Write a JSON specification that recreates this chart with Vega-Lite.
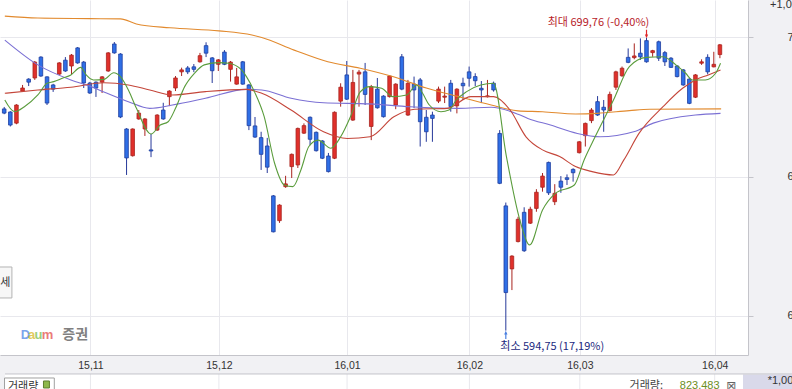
{
"$schema":"https://vega.github.io/schema/vega-lite/v6.json",
"width":748,"height":355,
"autosize":{"type":"none"},
"padding":{"left":0,"top":0,"right":44,"bottom":34},
"background":"#f1f1f4",
"view":{"fill":"white","stroke":null},
"config":{"text":{"font":"Noto Sans CJK KR"}},
"datasets":{
"candles":[
{"i":-14,"o":674.3,"h":675.0,"l":672.4,"c":672.8},
{"i":-13,"o":673.2,"h":673.5,"l":668.0,"c":668.5},
{"i":-12,"o":669.2,"h":676.0,"l":668.8,"c":675.7},
{"i":-11,"o":680.7,"h":682.9,"l":680.4,"c":681.8},
{"i":-10,"o":685.0,"h":685.3,"l":682.5,"c":683.9},
{"i":-9,"o":685.4,"h":691.5,"l":684.7,"c":691.1},
{"i":-8,"o":692.9,"h":693.2,"l":685.8,"c":686.1},
{"i":-7,"o":685.8,"h":686.0,"l":675.7,"c":676.4},
{"i":-6,"o":682.9,"h":683.3,"l":680.4,"c":681.4},
{"i":-5,"o":686.8,"h":691.1,"l":686.5,"c":690.8},
{"i":-4,"o":691.8,"h":692.9,"l":687.6,"c":687.9},
{"i":-3,"o":689.7,"h":694.0,"l":686.8,"c":693.6},
{"i":-2,"o":696.2,"h":696.5,"l":690.5,"c":690.8},
{"i":-1,"o":691.1,"h":691.5,"l":681.8,"c":683.6},
{"i":0,"o":683.6,"h":684.0,"l":679.7,"c":680.0},
{"i":1,"o":683.9,"h":684.2,"l":678.6,"c":681.8},
{"i":2,"o":683.9,"h":686.1,"l":680.0,"c":685.8},
{"i":3,"o":687.9,"h":694.7,"l":687.6,"c":694.4},
{"i":4,"o":697.6,"h":698.3,"l":694.1,"c":694.4},
{"i":5,"o":694.0,"h":694.3,"l":671.0,"c":671.4},
{"i":6,"o":667.1,"h":667.4,"l":650.6,"c":656.7},
{"i":7,"o":657.5,"h":667.3,"l":657.2,"c":667.1},
{"i":8,"o":670.7,"h":673.9,"l":670.4,"c":672.8},
{"i":9,"o":667.1,"h":671.0,"l":664.6,"c":670.7},
{"i":10,"o":659.6,"h":665.3,"l":657.0,"c":659.2},
{"i":11,"o":666.7,"h":672.4,"l":666.4,"c":672.1},
{"i":12,"o":673.9,"h":676.5,"l":670.4,"c":670.7},
{"i":13,"o":678.7,"h":681.0,"l":675.3,"c":680.7},
{"i":14,"o":681.8,"h":686.1,"l":680.7,"c":685.4},
{"i":15,"o":687.6,"h":689.1,"l":686.1,"c":688.3},
{"i":16,"o":689.0,"h":689.7,"l":686.8,"c":687.6},
{"i":17,"o":689.4,"h":690.4,"l":687.5,"c":688.5},
{"i":18,"o":691.2,"h":694.4,"l":690.9,"c":693.4},
{"i":19,"o":697.0,"h":698.2,"l":692.9,"c":694.3},
{"i":20,"o":692.6,"h":692.9,"l":683.6,"c":688.0},
{"i":21,"o":690.3,"h":692.2,"l":687.9,"c":691.9},
{"i":22,"o":694.7,"h":695.4,"l":690.0,"c":690.3},
{"i":23,"o":688.5,"h":691.5,"l":684.1,"c":691.1},
{"i":24,"o":683.2,"h":689.0,"l":683.0,"c":685.8},
{"i":25,"o":691.2,"h":691.5,"l":683.0,"c":683.2},
{"i":26,"o":682.9,"h":683.2,"l":666.7,"c":668.3},
{"i":27,"o":668.2,"h":671.4,"l":663.9,"c":664.2},
{"i":28,"o":664.0,"h":666.1,"l":652.4,"c":658.0},
{"i":29,"o":661.0,"h":663.9,"l":651.3,"c":653.4},
{"i":30,"o":643.1,"h":643.4,"l":630.0,"c":630.2},
{"i":31,"o":634.2,"h":640.1,"l":633.4,"c":639.8},
{"i":32,"o":646.4,"h":650.3,"l":646.0,"c":647.4},
{"i":33,"o":653.6,"h":658.3,"l":649.5,"c":658.0},
{"i":34,"o":654.2,"h":667.6,"l":653.1,"c":667.3},
{"i":35,"o":665.6,"h":669.1,"l":665.3,"c":668.3},
{"i":36,"o":671.3,"h":671.6,"l":661.3,"c":663.4},
{"i":37,"o":665.9,"h":666.2,"l":659.0,"c":659.3},
{"i":38,"o":662.8,"h":663.1,"l":656.3,"c":656.6},
{"i":39,"o":657.4,"h":658.5,"l":651.5,"c":651.8},
{"i":40,"o":656.6,"h":673.4,"l":656.3,"c":673.1},
{"i":41,"o":677.1,"h":683.5,"l":675.1,"c":682.1},
{"i":42,"o":686.5,"h":691.5,"l":677.5,"c":677.8},
{"i":43,"o":670.3,"h":688.3,"l":670.0,"c":683.8},
{"i":44,"o":686.8,"h":688.3,"l":675.1,"c":687.5},
{"i":45,"o":687.6,"h":690.8,"l":675.7,"c":679.5},
{"i":46,"o":668.0,"h":682.9,"l":663.1,"c":682.3},
{"i":47,"o":681.4,"h":685.4,"l":674.4,"c":674.7},
{"i":48,"o":678.9,"h":679.2,"l":671.2,"c":671.5},
{"i":49,"o":678.7,"h":686.4,"l":678.4,"c":686.1},
{"i":50,"o":675.7,"h":683.5,"l":674.2,"c":683.2},
{"i":51,"o":693.0,"h":694.0,"l":681.0,"c":681.4},
{"i":52,"o":672.1,"h":684.7,"l":671.8,"c":683.5},
{"i":53,"o":683.2,"h":685.9,"l":674.6,"c":681.1},
{"i":54,"o":684.7,"h":685.4,"l":660.8,"c":669.7},
{"i":55,"o":671.3,"h":673.9,"l":662.5,"c":666.1},
{"i":56,"o":672.1,"h":673.3,"l":662.5,"c":670.9},
{"i":57,"o":677.1,"h":682.3,"l":676.4,"c":681.4},
{"i":58,"o":678.5,"h":682.3,"l":676.4,"c":678.9},
{"i":59,"o":683.5,"h":684.7,"l":673.3,"c":675.1},
{"i":60,"o":675.4,"h":681.7,"l":672.7,"c":681.4},
{"i":61,"o":683.5,"h":685.5,"l":677.5,"c":682.6},
{"i":62,"o":687.6,"h":689.5,"l":682.3,"c":685.3},
{"i":63,"o":685.9,"h":687.1,"l":682.5,"c":684.4},
{"i":64,"o":681.7,"h":684.3,"l":676.4,"c":681.1},
{"i":65,"o":678.7,"h":684.7,"l":678.4,"c":679.0},
{"i":66,"o":683.5,"h":684.1,"l":680.5,"c":681.1},
{"i":67,"o":665.5,"h":666.7,"l":647.3,"c":647.6},
{"i":68,"o":639.5,"h":640.7,"l":594.75,"c":608.4},
{"i":69,"o":616.9,"h":621.8,"l":609.3,"c":621.5},
{"i":70,"o":626.7,"h":635.6,"l":626.4,"c":634.7},
{"i":71,"o":637.2,"h":639.0,"l":623.0,"c":623.4},
{"i":72,"o":633.3,"h":639.2,"l":633.0,"c":638.3},
{"i":73,"o":638.6,"h":645.5,"l":637.4,"c":644.4},
{"i":74,"o":646.2,"h":651.3,"l":644.6,"c":650.2},
{"i":75,"o":655.1,"h":655.4,"l":643.4,"c":644.2},
{"i":76,"o":641.0,"h":647.3,"l":639.8,"c":644.0},
{"i":77,"o":648.4,"h":650.2,"l":644.2,"c":646.2},
{"i":78,"o":649.6,"h":650.8,"l":647.0,"c":649.0},
{"i":79,"o":652.6,"h":653.0,"l":648.2,"c":651.4},
{"i":80,"o":658.6,"h":662.8,"l":658.3,"c":662.5},
{"i":81,"o":664.7,"h":669.4,"l":660.8,"c":669.1},
{"i":82,"o":670.1,"h":674.6,"l":669.2,"c":673.9},
{"i":83,"o":676.9,"h":678.9,"l":671.8,"c":672.1},
{"i":84,"o":674.9,"h":677.5,"l":666.1,"c":673.9},
{"i":85,"o":673.7,"h":680.5,"l":673.4,"c":679.5},
{"i":86,"o":682.1,"h":688.0,"l":681.1,"c":687.6},
{"i":87,"o":686.2,"h":689.5,"l":685.8,"c":688.9},
{"i":88,"o":692.8,"h":696.0,"l":690.7,"c":691.0},
{"i":89,"o":692.7,"h":697.8,"l":692.1,"c":693.3},
{"i":90,"o":694.3,"h":699.6,"l":691.9,"c":693.0},
{"i":91,"o":698.8,"h":699.76,"l":690.9,"c":691.2},
{"i":92,"o":694.5,"h":695.5,"l":693.0,"c":695.2},
{"i":93,"o":698.4,"h":698.8,"l":691.5,"c":692.5},
{"i":94,"o":694.5,"h":695.1,"l":689.7,"c":691.2},
{"i":95,"o":692.5,"h":692.9,"l":689.0,"c":689.2},
{"i":96,"o":689.7,"h":690.0,"l":685.6,"c":685.9},
{"i":97,"o":688.3,"h":688.6,"l":682.6,"c":682.9},
{"i":98,"o":685.0,"h":685.3,"l":676.0,"c":676.3},
{"i":99,"o":678.5,"h":686.8,"l":678.2,"c":686.5},
{"i":100,"o":690.7,"h":692.1,"l":690.1,"c":691.2},
{"i":101,"o":692.8,"h":693.9,"l":686.7,"c":687.6},
{"i":102,"o":689.4,"h":694.8,"l":689.2,"c":690.3},
{"i":103,"o":693.8,"h":697.6,"l":692.5,"c":697.3}
],
"ma":[
{"s":"ma120","i":-13.9,"v":707.6},{"s":"ma120","i":-8.5,"v":706.9},{"s":"ma120","i":0,"v":706.7},{"s":"ma120","i":5,"v":706.6},{"s":"ma120","i":7.6,"v":704.8},{"s":"ma120","i":13.1,"v":703.4},{"s":"ma120","i":21.1,"v":702.3},{"s":"ma120","i":26.5,"v":700.8},{"s":"ma120","i":28.1,"v":699.9},{"s":"ma120","i":33.4,"v":695.4},{"s":"ma120","i":38.9,"v":691.2},{"s":"ma120","i":44.2,"v":688.9},{"s":"ma120","i":49.5,"v":685.9},{"s":"ma120","i":55,"v":681.8},{"s":"ma120","i":60.3,"v":678.7},{"s":"ma120","i":65.6,"v":675.7},{"s":"ma120","i":70,"v":673.6},{"s":"ma120","i":74,"v":673.3},{"s":"ma120","i":79.4,"v":672.5},{"s":"ma120","i":82.9,"v":672.7},{"s":"ma120","i":88.2,"v":673.7},{"s":"ma120","i":91.5,"v":674.2},{"s":"ma120","i":103.2,"v":674.3},
{"s":"ma60","i":-13.9,"v":699.0},{"s":"ma60","i":-8.5,"v":690.1},{"s":"ma60","i":-3.1,"v":684.7},{"s":"ma60","i":0.2,"v":682.3},{"s":"ma60","i":2.3,"v":680.4},{"s":"ma60","i":6.3,"v":676.9},{"s":"ma60","i":9.8,"v":674.5},{"s":"ma60","i":13.5,"v":675.7},{"s":"ma60","i":18.9,"v":678.1},{"s":"ma60","i":25.6,"v":681.3},{"s":"ma60","i":28.1,"v":681.1},{"s":"ma60","i":32.9,"v":678.1},{"s":"ma60","i":38.2,"v":676.5},{"s":"ma60","i":45.8,"v":676.1},{"s":"ma60","i":52.3,"v":675.1},{"s":"ma60","i":60.3,"v":674.5},{"s":"ma60","i":65.6,"v":674.9},{"s":"ma60","i":70,"v":672.4},{"s":"ma60","i":71.6,"v":670.9},{"s":"ma60","i":75.3,"v":668.5},{"s":"ma60","i":79.7,"v":665.5},{"s":"ma60","i":83.4,"v":664.3},{"s":"ma60","i":88.9,"v":666.1},{"s":"ma60","i":92.1,"v":669.2},{"s":"ma60","i":99,"v":672.1},{"s":"ma60","i":103.1,"v":672.7},
{"s":"ma20","i":-13.9,"v":679.9},{"s":"ma20","i":-8.5,"v":681.1},{"s":"ma20","i":-3.1,"v":682.1},{"s":"ma20","i":2.3,"v":683.7},{"s":"ma20","i":6.3,"v":682.9},{"s":"ma20","i":9.8,"v":681.1},{"s":"ma20","i":13.5,"v":679.3},{"s":"ma20","i":18.9,"v":680.5},{"s":"ma20","i":25.6,"v":681.3},{"s":"ma20","i":28.1,"v":679.9},{"s":"ma20","i":32.9,"v":673.9},{"s":"ma20","i":38.2,"v":666.1},{"s":"ma20","i":42.1,"v":663.7},{"s":"ma20","i":45.8,"v":664.3},{"s":"ma20","i":49.7,"v":671.5},{"s":"ma20","i":53.1,"v":674.2},{"s":"ma20","i":58.4,"v":674.5},{"s":"ma20","i":62.3,"v":678.7},{"s":"ma20","i":66,"v":678.7},{"s":"ma20","i":68.7,"v":673.9},{"s":"ma20","i":71.3,"v":664.3},{"s":"ma20","i":74,"v":659.6},{"s":"ma20","i":76.8,"v":657.2},{"s":"ma20","i":79.4,"v":653.6},{"s":"ma20","i":82.1,"v":651.8},{"s":"ma20","i":85.6,"v":650.6},{"s":"ma20","i":87.3,"v":656.0},{"s":"ma20","i":89.8,"v":665.6},{"s":"ma20","i":93.7,"v":675.1},{"s":"ma20","i":96.9,"v":681.7},{"s":"ma20","i":99,"v":684.7},{"s":"ma20","i":101.1,"v":686.5},{"s":"ma20","i":103.1,"v":688.3},
{"s":"ma5","i":-13.9,"v":677.5},{"s":"ma5","i":-12.3,"v":673.3},{"s":"ma5","i":-10.7,"v":675.1},{"s":"ma5","i":-8.5,"v":679.3},{"s":"ma5","i":-7.0,"v":683.5},{"s":"ma5","i":-5.9,"v":684.1},{"s":"ma5","i":-4.5,"v":685.3},{"s":"ma5","i":-3.1,"v":686.5},{"s":"ma5","i":-1.5,"v":689.2},{"s":"ma5","i":-0.6,"v":686.5},{"s":"ma5","i":0.6,"v":684.7},{"s":"ma5","i":2.3,"v":684.9},{"s":"ma5","i":3.9,"v":687.3},{"s":"ma5","i":5,"v":685.9},{"s":"ma5","i":6.3,"v":681.1},{"s":"ma5","i":7.6,"v":674.6},{"s":"ma5","i":10,"v":665.3},{"s":"ma5","i":11.5,"v":668.5},{"s":"ma5","i":12.8,"v":669.7},{"s":"ma5","i":14,"v":674.5},{"s":"ma5","i":15.5,"v":682.3},{"s":"ma5","i":17.1,"v":687.1},{"s":"ma5","i":18.7,"v":690.1},{"s":"ma5","i":21.1,"v":690.9},{"s":"ma5","i":22.7,"v":690.7},{"s":"ma5","i":24.8,"v":688.3},{"s":"ma5","i":25.6,"v":685.9},{"s":"ma5","i":26.9,"v":680.5},{"s":"ma5","i":28.5,"v":671.5},{"s":"ma5","i":30.2,"v":654.8},{"s":"ma5","i":31.8,"v":647.0},{"s":"ma5","i":33.2,"v":646.4},{"s":"ma5","i":34.5,"v":652.4},{"s":"ma5","i":35.8,"v":660.8},{"s":"ma5","i":37.3,"v":663.1},{"s":"ma5","i":39.4,"v":660.2},{"s":"ma5","i":41,"v":664.3},{"s":"ma5","i":42.6,"v":671.5},{"s":"ma5","i":44.2,"v":680.4},{"s":"ma5","i":45.8,"v":682.3},{"s":"ma5","i":47.7,"v":681.7},{"s":"ma5","i":49.5,"v":678.7},{"s":"ma5","i":51.8,"v":679.3},{"s":"ma5","i":53.4,"v":682.9},{"s":"ma5","i":54.4,"v":679.9},{"s":"ma5","i":55.5,"v":675.7},{"s":"ma5","i":57.4,"v":673.3},{"s":"ma5","i":58.7,"v":673.9},{"s":"ma5","i":59.9,"v":677.5},{"s":"ma5","i":61.6,"v":680.5},{"s":"ma5","i":63.9,"v":682.9},{"s":"ma5","i":66.0,"v":683.5},{"s":"ma5","i":68.1,"v":657.2},{"s":"ma5","i":70.3,"v":634.4},{"s":"ma5","i":71.9,"v":625.5},{"s":"ma5","i":74,"v":638.0},{"s":"ma5","i":76.1,"v":644.0},{"s":"ma5","i":79.2,"v":647.0},{"s":"ma5","i":80.8,"v":656.0},{"s":"ma5","i":82.6,"v":664.3},{"s":"ma5","i":85.6,"v":677.5},{"s":"ma5","i":88.2,"v":689.5},{"s":"ma5","i":91,"v":692.8},{"s":"ma5","i":93.7,"v":693.0},{"s":"ma5","i":95.8,"v":690.1},{"s":"ma5","i":97.4,"v":687.1},{"s":"ma5","i":98.5,"v":684.7},{"s":"ma5","i":100.6,"v":684.7},{"s":"ma5","i":102.3,"v":687.1},{"s":"ma5","i":103.1,"v":690.7}
]
},
"layer":[
{"data":{"name":"candles"},"mark":{"type":"rule","strokeWidth":1},
 "encoding":{
  "x":{"field":"i","type":"quantitative","scale":{"domain":[-13.871,106.774],"nice":false,"zero":false},
   "axis":{"values":[0.1,21.1,42.05,62.05,80.1,102.15],"labelExpr":"datum.value < 10 ? '15,11' : datum.value < 30 ? '15,12' : datum.value < 50 ? '16,01' : datum.value < 70 ? '16,02' : datum.value < 90 ? '16,03' : '16,04'","title":null,"grid":true,"gridColor":"#e8e8ed","domain":true,"domainColor":"#c4c4ca","ticks":false,"tickSize":0,"labelPadding":10,"labelBaseline":"middle","labelFont":"Liberation Sans","labelFontSize":10.5,"labelColor":"#333333","labelFlush":false,"labelOverlap":false}},
  "y":{"field":"l","type":"quantitative","scale":{"domain":[586.0,713.38],"nice":false,"zero":false},
   "axis":{"orient":"right","values":[600,650,700],"format":"d","title":null,"grid":true,"gridColor":"#e8e8ed","domain":true,"domainColor":"#c4c4ca","ticks":true,"tickSize":5,"tickColor":"#c4c4ca","labelAlign":"left","labelBaseline":"middle","labelPadding":34,"labelFont":"Liberation Sans","labelFontSize":11,"labelColor":"#333333","labelFlush":false,"labelOverlap":false}},
  "y2":{"field":"h"},
  "color":{"condition":{"test":"datum.c >= datum.o","value":"#a8241f"},"value":"#26399a"}}},
{"data":{"values":[{}]},"mark":{"type":"rect","fill":"#ffffff"},
 "encoding":{"x":{"datum":-13.871,"type":"quantitative","title":null},"x2":{"datum":106.774},
 "y":{"datum":579.19,"type":"quantitative","title":null},"y2":{"datum":570}}},
{"data":{"values":[{}]},"mark":{"type":"rect","fill":"#d9d9ea"},
 "encoding":{"x":{"datum":106.774,"type":"quantitative","title":null},"x2":{"datum":115},
 "y":{"datum":578.9,"type":"quantitative","title":null},"y2":{"datum":570}}},
{"data":{"values":[{"g":0.1},{"g":21.1},{"g":42.05},{"g":62.05},{"g":80.1},{"g":102.15}]},"mark":{"type":"rule","color":"#e8e8ed","strokeWidth":1},
 "encoding":{"x":{"field":"g","type":"quantitative","title":null},"y":{"datum":579.19,"type":"quantitative","title":null},"y2":{"datum":570}}},
{"data":{"values":[{}]},"mark":{"type":"rule","color":"#c4c4ca","strokeWidth":1},
 "encoding":{"x":{"datum":-13.871,"type":"quantitative","title":null},"x2":{"datum":115},"y":{"datum":579.19,"type":"quantitative","title":null}}},
{"data":{"name":"candles"},"mark":{"type":"bar","size":3.6,"strokeWidth":0.8},
 "encoding":{
  "x":{"field":"i","type":"quantitative","title":null},
  "y":{"field":"o","type":"quantitative","title":null},
  "y2":{"field":"c"},
  "color":{"condition":{"test":"datum.c >= datum.o","value":"#e0302b"},"value":"#2f6fe6"},
  "stroke":{"condition":{"test":"datum.c >= datum.o","value":"#a8241f"},"value":"#1f3d9e"}}},
{"data":{"name":"ma"},"mark":{"type":"line","strokeWidth":1.1,"interpolate":"monotone"},
 "encoding":{
  "x":{"field":"i","type":"quantitative","title":null},
  "y":{"field":"v","type":"quantitative","title":null},
  "color":{"field":"s","type":"nominal","scale":{"domain":["ma120","ma60","ma20","ma5"],"range":["#e28a2e","#7b70d4","#c4463a","#5a9c3c"]},"legend":null}}},
{"data":{"values":[{"i":91,"p":701.2}]},"mark":{"type":"point","shape":"arrow","angle":180,"filled":true,"size":70,"color":"#e0282a","opacity":1},
 "encoding":{"x":{"field":"i","type":"quantitative","title":null},"y":{"field":"p","type":"quantitative","title":null}}},
{"data":{"values":[{"i":68,"p":593.2}]},"mark":{"type":"point","shape":"arrow","filled":true,"size":70,"color":"#4a7fe0","opacity":1},
 "encoding":{"x":{"field":"i","type":"quantitative","title":null},"y":{"field":"p","type":"quantitative","title":null}}},
{"data":{"values":[{"i":91.45,"p":705.13,"t":"최대 699,76 (-0,40%)"}]},"mark":{"type":"text","align":"right","baseline":"middle","fontSize":11,"color":"#b8232a"},
 "encoding":{"x":{"field":"i","type":"quantitative","title":null},"y":{"field":"p","type":"quantitative","title":null},"text":{"field":"t"}}},
{"data":{"values":[{"i":67.1,"p":588.88,"t":"최소 594,75 (17,19%)"}]},"mark":{"type":"text","align":"left","baseline":"middle","fontSize":11,"color":"#1c2a80"},
 "encoding":{"x":{"field":"i","type":"quantitative","title":null},"y":{"field":"p","type":"quantitative","title":null},"text":{"field":"t"}}},
{"data":{"values":[{"i":-11.29,"p":593.2,"t":"D"},{"i":-10.1,"p":593.2,"t":"a"},{"i":-9.05,"p":593.2,"t":"u"},{"i":-7.85,"p":593.2,"t":"m"}]},"mark":{"type":"text","align":"left","baseline":"middle","fontSize":13,"fontWeight":"bold","font":"Liberation Sans","opacity":0.75},
 "encoding":{"x":{"field":"i","type":"quantitative","title":null},"y":{"field":"p","type":"quantitative","title":null},"text":{"field":"t"},
  "fill":{"field":"t","type":"nominal","scale":{"domain":["D","a","u","m"],"range":["#4f86e6","#d9b92a","#7cc04a","#e4504c"]},"legend":null}}},
{"data":{"values":[{"i":-4.5,"p":593.2,"t":"증권"}]},"mark":{"type":"text","align":"left","baseline":"middle","fontSize":14,"fontWeight":"bold","color":"#808080"},
 "encoding":{"x":{"field":"i","type":"quantitative","title":null},"y":{"field":"p","type":"quantitative","title":null},"text":{"field":"t"}}},
{"data":{"values":[{}]},"mark":{"type":"rect","fill":"#f7f7f7","stroke":"#b4b4b4","strokeWidth":1},
 "encoding":{"x":{"datum":-16,"type":"quantitative","title":null},"x2":{"datum":-12.74},"y":{"datum":617.58,"type":"quantitative","title":null},"y2":{"datum":606.46}}},
{"data":{"values":[{"i":-12.98,"p":611.9,"t":"세"}]},"mark":{"type":"text","align":"right","baseline":"middle","fontSize":11,"color":"#333333"},
 "encoding":{"x":{"field":"i","type":"quantitative","title":null},"y":{"field":"p","type":"quantitative","title":null},"text":{"field":"t"}}},
{"data":{"values":[{}]},"mark":{"type":"rect","fill":"#ffffff","stroke":"#a0a0a0","strokeWidth":1},
 "encoding":{"x":{"datum":-13.95,"type":"quantitative","title":null},"x2":{"datum":-5.81},"y":{"datum":577.75,"type":"quantitative","title":null},"y2":{"datum":571}}},
{"data":{"values":[{}]},"mark":{"type":"rect","fill":"#8db84a","stroke":"#5f7f2f","strokeWidth":1},
 "encoding":{"x":{"datum":-7.58,"type":"quantitative","title":null},"x2":{"datum":-6.61},"y":{"datum":576.68,"type":"quantitative","title":null},"y2":{"datum":574.16}}},
{"data":{"values":[{"i":-13.39,"p":574.6,"t":"거래량"}]},"mark":{"type":"text","align":"left","baseline":"middle","fontSize":11,"color":"#333333"},
 "encoding":{"x":{"field":"i","type":"quantitative","title":null},"y":{"field":"p","type":"quantitative","title":null},"text":{"field":"t"}}},
{"data":{"values":[{"i":88.23,"p":574.89,"t":"거래량:"}]},"mark":{"type":"text","align":"left","baseline":"middle","fontSize":11,"color":"#444444"},
 "encoding":{"x":{"field":"i","type":"quantitative","title":null},"y":{"field":"p","type":"quantitative","title":null},"text":{"field":"t"}}},
{"data":{"values":[{"i":96.45,"p":574.89,"t":"823,483"}]},"mark":{"type":"text","align":"left","baseline":"middle","fontSize":11,"font":"Liberation Sans","color":"#6b8e23"},
 "encoding":{"x":{"field":"i","type":"quantitative","title":null},"y":{"field":"p","type":"quantitative","title":null},"text":{"field":"t"}}},
{"data":{"values":[{"i":104.03,"p":574.89,"t":"⊠"}]},"mark":{"type":"text","align":"left","baseline":"middle","fontSize":12,"font":"DejaVu Sans","color":"#666666"},
 "encoding":{"x":{"field":"i","type":"quantitative","title":null},"y":{"field":"p","type":"quantitative","title":null},"text":{"field":"t"}}},
{"data":{"values":[{"i":110.8,"p":576.7,"t":"*1,000"},{"i":111.2,"p":711.6,"t":"+1,000"}]},"mark":{"type":"text","align":"left","baseline":"middle","fontSize":11,"font":"Liberation Sans","color":"#333333"},
 "encoding":{"x":{"field":"i","type":"quantitative","title":null},"y":{"field":"p","type":"quantitative","title":null},"text":{"field":"t"}}}
]
}
